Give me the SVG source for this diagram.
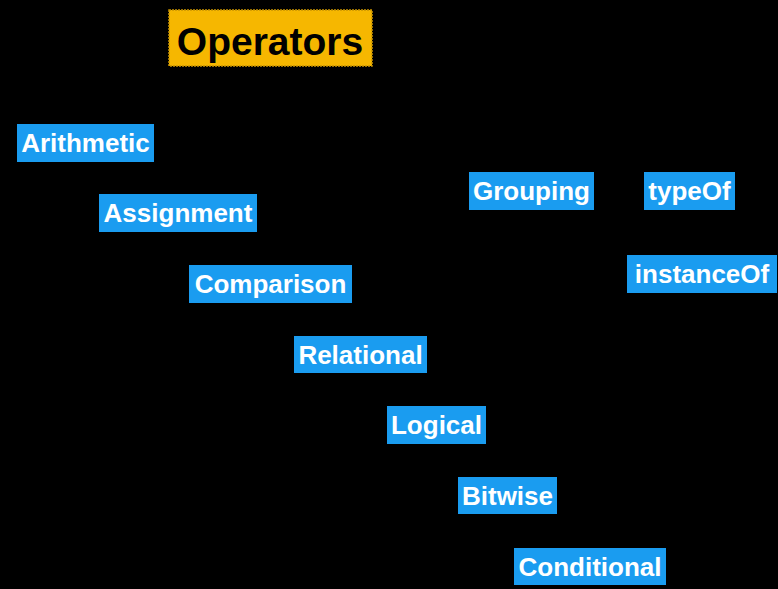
<svg xmlns="http://www.w3.org/2000/svg" width="778" height="589" viewBox="0 0 778 589">
<style>
.bg{fill:#000}
.n rect{fill:#1a9cf0}
.n text{font-family:"Liberation Sans",Arial,sans-serif;font-weight:bold;font-size:26px;fill:#fff;text-anchor:middle}
.t rect{fill:#f6b700;stroke:#c99400;stroke-width:1.5;stroke-dasharray:2 1}
.t text{font-family:"Liberation Sans",Arial,sans-serif;font-weight:bold;font-size:39px;fill:#000;text-anchor:middle}
</style>
<rect class="bg" x="0" y="0" width="778" height="589"/>
<g id="connectors"/>
<g id="operators" class="t"><rect x="169" y="10" width="203" height="56"/><text x="270" y="55">Operators</text></g>
<g id="arithmetic" class="n"><rect x="17" y="124" width="137" height="38"/><text x="85.5" y="152">Arithmetic</text></g>
<g id="assignment" class="n"><rect x="99" y="194" width="158" height="38"/><text x="178" y="222">Assignment</text></g>
<g id="comparison" class="n"><rect x="189" y="265" width="163" height="38"/><text x="270.5" y="293">Comparison</text></g>
<g id="relational" class="n"><rect x="294" y="336" width="133" height="37"/><text x="360.5" y="364">Relational</text></g>
<g id="logical" class="n"><rect x="387" y="406" width="99" height="38"/><text x="436.5" y="434">Logical</text></g>
<g id="bitwise" class="n"><rect x="458" y="477" width="99" height="37"/><text x="507.5" y="505">Bitwise</text></g>
<g id="conditional" class="n"><rect x="514" y="548" width="152" height="37"/><text x="590" y="576">Conditional</text></g>
<g id="grouping" class="n"><rect x="469" y="172" width="125" height="38"/><text x="531.5" y="200">Grouping</text></g>
<g id="typeof" class="n"><rect x="644" y="172" width="91" height="38"/><text x="689.5" y="200">typeOf</text></g>
<g id="instanceof" class="n"><rect x="627" y="255" width="150" height="38"/><text x="702" y="283">instanceOf</text></g>
</svg>
